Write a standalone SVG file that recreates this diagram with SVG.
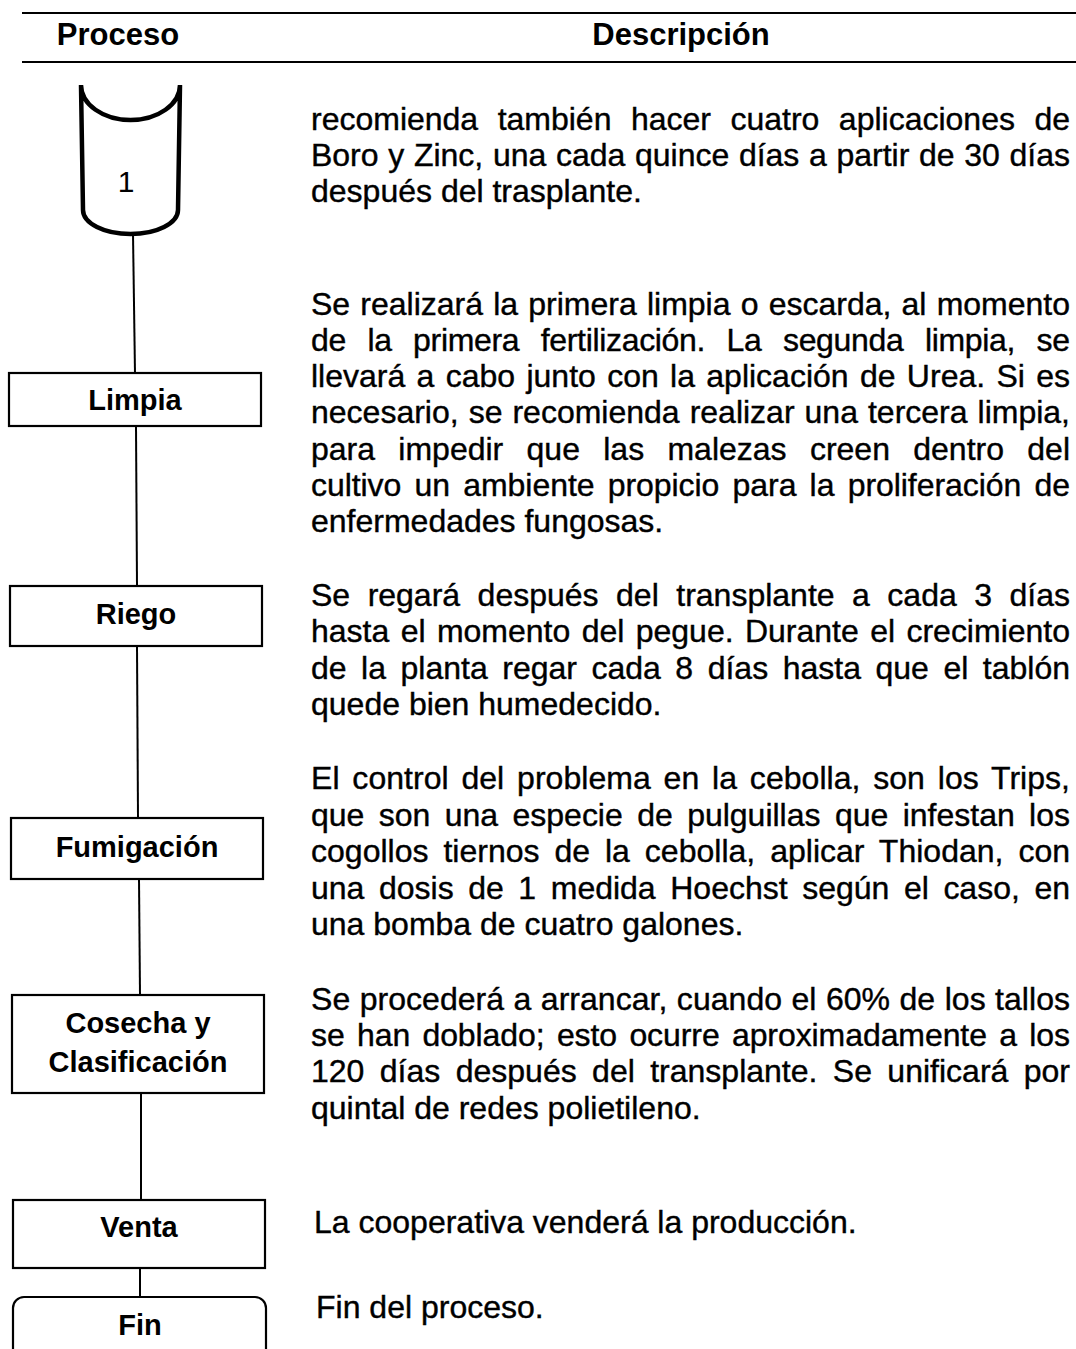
<svg xmlns="http://www.w3.org/2000/svg" width="1076" height="1349" viewBox="0 0 1076 1349">
<style>
.h{font-family:"Liberation Sans",Arial,sans-serif;font-size:31px;font-weight:bold;fill:#000;text-anchor:middle}
.l{font-family:"Liberation Sans",Arial,sans-serif;font-size:29px;font-weight:bold;fill:#000;text-anchor:middle}
.d{font-family:"Liberation Sans",Arial,sans-serif;font-size:32px;fill:#000;stroke:#000;stroke-width:0.4}
.box{fill:#fff;stroke:#000;stroke-width:2.2}
.rule{stroke:#000;stroke-width:2.2}
.conn{stroke:#000;stroke-width:2;fill:none}
</style>
<rect width="1076" height="1349" fill="#fff"/>
<g id="header">
<line class="rule" x1="22" y1="13" x2="1076" y2="13"/>
<line class="rule" x1="22" y1="62" x2="1076" y2="62"/>
<text class="h" x="118" y="45">Proceso</text>
<text class="h" x="681" y="45">Descripción</text>
</g>
<g id="connectors">
<line class="conn" x1="133" y1="234" x2="135" y2="373"/>
<line class="conn" x1="136" y1="426" x2="137" y2="586"/>
<line class="conn" x1="137" y1="646" x2="138" y2="818"/>
<line class="conn" x1="139" y1="879" x2="140" y2="995"/>
<line class="conn" x1="141" y1="1093" x2="141" y2="1200"/>
<line class="conn" x1="140" y1="1268" x2="140" y2="1297"/>
</g>
<g id="node-1">
<path d="M81,85 L83,210 A47.5,24 0 0 0 178,210 L180,85 A49.5,35 0 0 1 81,85 Z" fill="#fff" stroke="#000" stroke-width="4.5" stroke-linejoin="miter"/>
<text x="126" y="192" style="font-family:'Liberation Sans',Arial,sans-serif;font-size:30px;fill:#000" text-anchor="middle">1</text>
</g>
<g id="node-limpia">
<rect class="box" x="9" y="373" width="252" height="53"/>
<text class="l" x="135" y="410">Limpia</text>
</g>
<g id="node-riego">
<rect class="box" x="10" y="586" width="252" height="60"/>
<text class="l" x="136" y="624">Riego</text>
</g>
<g id="node-fumigacion">
<rect class="box" x="11" y="818" width="252" height="61"/>
<text class="l" x="137" y="857">Fumigación</text>
</g>
<g id="node-cosecha">
<rect class="box" x="12" y="995" width="252" height="98"/>
<text class="l" x="138" y="1033">Cosecha y</text>
<text class="l" x="138" y="1072">Clasificación</text>
</g>
<g id="node-venta">
<rect class="box" x="13" y="1200" width="252" height="68"/>
<text class="l" x="139" y="1237">Venta</text>
</g>
<g id="node-fin">
<rect class="box" x="13" y="1297" width="253" height="80" rx="11" ry="11"/>
<text class="l" x="140" y="1335">Fin</text>
</g>
<g id="descriptions">
<text class="d" x="311" y="130" word-spacing="10.6" textLength="759" lengthAdjust="spacing">recomienda también hacer cuatro aplicaciones de</text>
<text class="d" x="311" y="166" word-spacing="0.8" textLength="759" lengthAdjust="spacing">Boro y Zinc, una cada quince días a partir de 30 días</text>
<text class="d" x="311" y="202">después del trasplante.</text>

<text class="d" x="311" y="315" word-spacing="1.3" textLength="759" lengthAdjust="spacing">Se realizará la primera limpia o escarda, al momento</text>
<text class="d" x="311" y="351" word-spacing="12.9" textLength="759" lengthAdjust="spacing">de la primera fertilización. La segunda limpia, se</text>
<text class="d" x="311" y="387" word-spacing="2.4" textLength="759" lengthAdjust="spacing">llevará a cabo junto con la aplicación de Urea. Si es</text>
<text class="d" x="311" y="423" word-spacing="1.1" textLength="759" lengthAdjust="spacing">necesario, se recomienda realizar una tercera limpia,</text>
<text class="d" x="311" y="460" word-spacing="14.4" textLength="759" lengthAdjust="spacing">para impedir que las malezas creen dentro del</text>
<text class="d" x="311" y="496" word-spacing="4.4" textLength="759" lengthAdjust="spacing">cultivo un ambiente propicio para la proliferación de</text>
<text class="d" x="311" y="532">enfermedades fungosas.</text>

<text class="d" x="311" y="606" word-spacing="8.6" textLength="759" lengthAdjust="spacing">Se regará después del transplante a cada 3 días</text>
<text class="d" x="311" y="642" word-spacing="2.5" textLength="759" lengthAdjust="spacing">hasta el momento del pegue. Durante el crecimiento</text>
<text class="d" x="311" y="679" word-spacing="5.6" textLength="759" lengthAdjust="spacing">de la planta regar cada 8 días hasta que el tablón</text>
<text class="d" x="311" y="715">quede bien humedecido.</text>

<text class="d" x="311" y="789" word-spacing="3.9" textLength="759" lengthAdjust="spacing">El control del problema en la cebolla, son los Trips,</text>
<text class="d" x="311" y="826" word-spacing="5.5" textLength="759" lengthAdjust="spacing">que son una especie de pulguillas que infestan los</text>
<text class="d" x="311" y="862" word-spacing="6.0" textLength="759" lengthAdjust="spacing">cogollos tiernos de la cebolla, aplicar Thiodan, con</text>
<text class="d" x="311" y="899" word-spacing="5.7" textLength="759" lengthAdjust="spacing">una dosis de 1 medida Hoechst según el caso, en</text>
<text class="d" x="311" y="935">una bomba de cuatro galones.</text>

<text class="d" x="311" y="1010" word-spacing="0.5" textLength="759" lengthAdjust="spacing">Se procederá a arrancar, cuando el 60% de los tallos</text>
<text class="d" x="311" y="1046" word-spacing="3.5" textLength="759" lengthAdjust="spacing">se han doblado; esto ocurre aproximadamente a los</text>
<text class="d" x="311" y="1082" word-spacing="6.5" textLength="759" lengthAdjust="spacing">120 días después del transplante. Se unificará por</text>
<text class="d" x="311" y="1119">quintal de redes polietileno.</text>

<text class="d" x="314" y="1233">La cooperativa venderá la producción.</text>
<text class="d" x="316" y="1318">Fin del proceso.</text>
</g>
</svg>
